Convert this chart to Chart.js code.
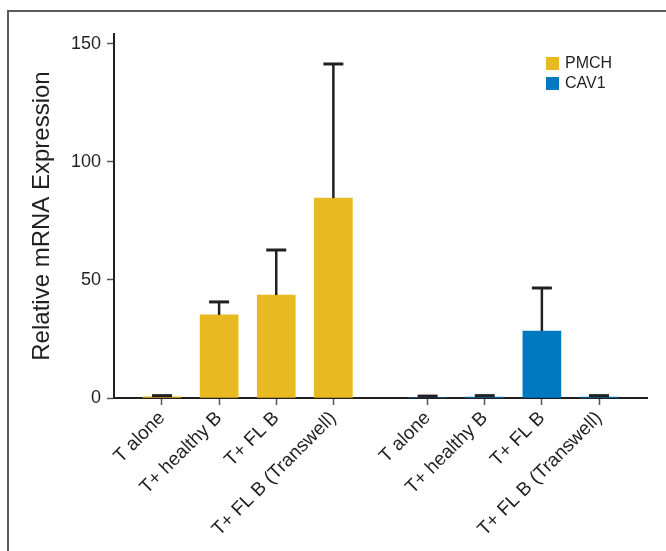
<!DOCTYPE html>
<html>
<head>
<meta charset="utf-8">
<script src="https://cdn.jsdelivr.net/npm/chart.js@4"></script>
<style>
  body { margin: 0; background: #fff; }
  #wrap { position: relative; width: 666px; height: 551px; overflow: hidden; }
  #frame {
    position: absolute; left: 7px; top: 10px; width: 700px; height: 600px;
    border-left: 2px solid #5c5c5c; border-top: 2px solid #5c5c5c;
  }
  canvas { position: absolute; left: 0; top: 0; }
</style>
</head>
<body>
<div id="wrap">
  <div id="frame"></div>
  <canvas id="chart"></canvas>
</div>
<script>
const groupLabels = ["T alone", "T+ healthy B", "T+ FL B", "T+ FL B (Transwell)"];

const pmchMeans = [0.5, 35.2, 43.6, 84.7];
const pmchErrors = [0.5, 5.5, 19.1, 56.8];

const cav1Means = [0.2, 0.4, 28.4, 0.4];
const cav1Errors = [0.6, 0.6, 18.2, 0.6];

const yTicks = [0, 50, 100, 150];

const seriesNames = ["PMCH", "CAV1"];
const seriesColors = ["#E8B920", "#0079C1"];

// second group sits a bit further right than a plain next slot
const groupGap = 0.65;
const pmchX = groupLabels.map((_, i) => i);
const cav1X = groupLabels.map((_, i) => groupLabels.length + groupGap + i);
const allX = pmchX.concat(cav1X);
const allLabels = groupLabels.concat(groupLabels);

const font = "'Liberation Sans', Arial, Helvetica, sans-serif";
const ink = "#231f20";

const errorBars = {
  id: "errorBars",
  afterDatasetsDraw(chart) {
    const ctx = chart.ctx;
    const yScale = chart.scales.y;
    const errs = [pmchErrors, cav1Errors];
    const means = [pmchMeans, cav1Means];
    chart.data.datasets.forEach((ds, d) => {
      const meta = chart.getDatasetMeta(d);
      meta.data.forEach((bar, i) => {
        const top = yScale.getPixelForValue(means[d][i] + errs[d][i]);
        ctx.save();
        ctx.strokeStyle = ink;
        ctx.lineWidth = 2.5;
        ctx.beginPath();
        ctx.moveTo(bar.x, bar.y);
        ctx.lineTo(bar.x, top);
        ctx.stroke();
        ctx.lineWidth = 3;
        ctx.beginPath();
        ctx.moveTo(bar.x - 10, top);
        ctx.lineTo(bar.x + 10, top);
        ctx.stroke();
        ctx.restore();
      });
    });
  }
};

const boxLegend = {
  id: "boxLegend",
  afterDraw(chart) {
    const ctx = chart.ctx;
    const area = chart.chartArea;
    const x = area.right - 101;
    let y = area.top + 23;
    ctx.save();
    ctx.font = "16px " + font;
    ctx.textBaseline = "middle";
    chart.data.datasets.forEach((ds) => {
      ctx.fillStyle = ds.backgroundColor;
      ctx.fillRect(x, y, 13, 13);
      ctx.fillStyle = ink;
      ctx.fillText(ds.label, x + 19, y + 7);
      y += 20;
    });
    ctx.restore();
  }
};

new Chart(document.getElementById("chart"), {
  type: "bar",
  data: {
    datasets: [
      {
        label: seriesNames[0],
        backgroundColor: seriesColors[0],
        data: pmchMeans.map((v, i) => ({ x: pmchX[i], y: v })),
      },
      {
        label: seriesNames[1],
        backgroundColor: seriesColors[1],
        data: cav1Means.map((v, i) => ({ x: cav1X[i], y: v })),
      },
    ],
  },
  options: {
    responsive: true,
    maintainAspectRatio: false,
    animation: false,
    grouped: false,
    barThickness: 38,
    layout: { padding: { top: 34, right: 19, left: 0, bottom: 0 } },
    plugins: {
      legend: { display: false },
      tooltip: { enabled: false },
    },
    scales: {
      x: {
        type: "linear",
        offset: false,
        min: -0.84,
        max: allX[allX.length - 1] + 0.84,
        afterBuildTicks(scale) {
          scale.ticks = allX.map((v) => ({ value: v }));
        },
        afterFit(scale) {
          scale.height = 153;
          scale.paddingLeft = 0;
          scale.paddingRight = 0;
        },
        ticks: {
          autoSkip: false,
          maxRotation: 45,
          minRotation: 45,
          padding: 2,
          color: ink,
          font: { family: font, size: 19 },
          callback: (value, index) => allLabels[index],
        },
        grid: {
          offset: false,
          drawOnChartArea: false,
          tickLength: 7,
          tickColor: "#555",
          tickWidth: 1.5,
        },
        border: { color: ink, width: 2 },
      },
      y: {
        min: 0,
        max: 154.2,
        afterBuildTicks(scale) {
          scale.ticks = yTicks.map((v) => ({ value: v }));
        },
        afterFit(scale) {
          scale.width = 114;
        },
        ticks: {
          padding: 6,
          color: ink,
          font: { family: font, size: 18 },
        },
        grid: {
          drawOnChartArea: false,
          tickLength: 7,
          tickColor: "#555",
          tickWidth: 1.5,
        },
        border: { color: ink, width: 2 },
        title: {
          display: true,
          text: "Relative mRNA Expression",
          color: ink,
          font: { family: font, size: 24 },
          padding: { top: 28, bottom: 0 },
        },
      },
    },
  },
  plugins: [errorBars, boxLegend],
});
</script>
</body>
</html>
